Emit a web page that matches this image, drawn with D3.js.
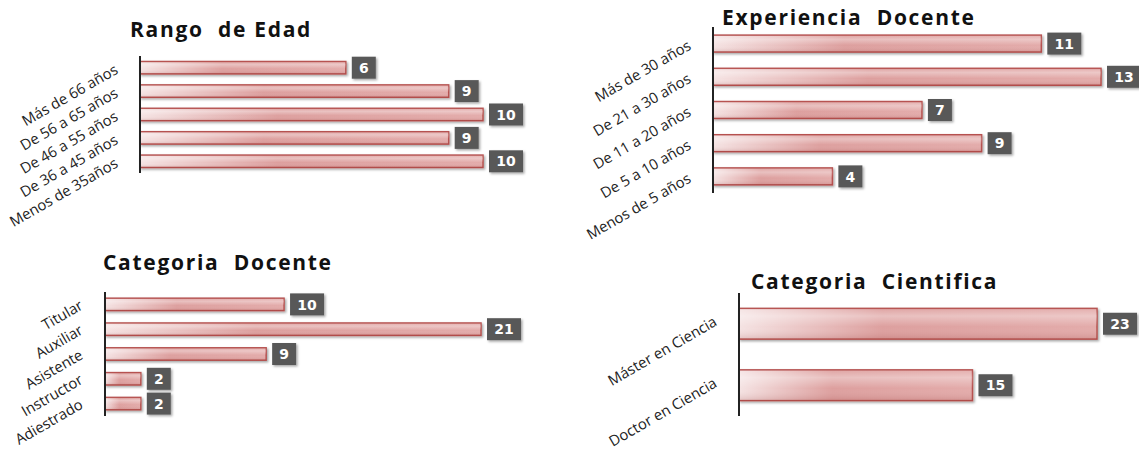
<!DOCTYPE html>
<html>
<head>
<meta charset="utf-8">
<script src="https://cdn.jsdelivr.net/npm/d3@7"></script>
<style>
  html, body { margin: 0; padding: 0; background: #ffffff; }
  svg { display: block; }
</style>
</head>
<body>
<svg id="chart" width="1139" height="451"></svg>
<script>
// ---- Data ----
const edadTitle = "Rango  de Edad";
const edadCats = ["Más de 66 años", "De 56 a 65 años", "De 46 a 55 años", "De 36 a 45 años", "Menos de 35años"];
const edadVals = [6, 9, 10, 9, 10];

const expTitle = "Experiencia  Docente";
const expCats = ["Más de 30 años", "De 21 a 30 años", "De 11 a 20 años", "De 5 a 10 años", "Menos de 5 años"];
const expVals = [11, 13, 7, 9, 4];

const catDocTitle = "Categoria  Docente";
const catDocCats = ["Titular", "Auxiliar", "Asistente", "Instructor", "Adiestrado"];
const catDocVals = [10, 21, 9, 2, 2];

const catCiTitle = "Categoria  Cientifica";
const catCiCats = ["Máster en Ciencia", "Doctor en Ciencia"];
const catCiVals = [23, 15];

// ---- Layout (positions / styles) ----
const panels = [
  { title: edadTitle, cats: edadCats, vals: edadVals, xr: [140, 483], yr: [56, 173], pad: 0.47, tx: 130, ty: 37, ldy: 5 },
  { title: expTitle, cats: expCats, vals: expVals, xr: [713, 1101], yr: [27, 193], pad: 0.49, tx: 722, ty: 25, ldy: 5 },
  { title: catDocTitle, cats: catDocCats, vals: catDocVals, xr: [105, 481], yr: [292, 416], pad: 0.5, tx: 103, ty: 270, ldy: 4 },
  { title: catCiTitle, cats: catCiCats, vals: catCiVals, xr: [739, 1097], yr: [293, 416], pad: 0.5, tx: 751, ty: 289, ldy: 1 }
];

const svg = d3.select("#chart");
const defs = svg.append("defs");

const hg = defs.append("linearGradient").attr("id", "barH").attr("x1", "0").attr("x2", "1").attr("y1", "0").attr("y2", "0");
hg.append("stop").attr("offset", "0%").attr("stop-color", "#f5e3e3");
hg.append("stop").attr("offset", "40%").attr("stop-color", "#dd9f9e");
hg.append("stop").attr("offset", "100%").attr("stop-color", "#e3abaa");

const vg = defs.append("linearGradient").attr("id", "barV").attr("x1", "0").attr("x2", "0").attr("y1", "0").attr("y2", "1");
vg.append("stop").attr("offset", "0%").attr("stop-color", "#ffffff").attr("stop-opacity", 0.05);
vg.append("stop").attr("offset", "25%").attr("stop-color", "#ffffff").attr("stop-opacity", 0.35);
vg.append("stop").attr("offset", "60%").attr("stop-color", "#ffffff").attr("stop-opacity", 0.0);
vg.append("stop").attr("offset", "100%").attr("stop-color", "#8a2a28").attr("stop-opacity", 0.18);

const sh = defs.append("filter").attr("id", "shadow").attr("x", "-10%").attr("y", "-30%").attr("width", "130%").attr("height", "180%");
sh.append("feDropShadow").attr("dx", 1.5).attr("dy", 1.5).attr("stdDeviation", 1.2).attr("flood-color", "#000").attr("flood-opacity", 0.35);

const labAngle = 30;
const labSize = 14.8;

panels.forEach(p => {
  const g = svg.append("g");
  const x = d3.scaleLinear().domain([0, d3.max(p.vals)]).range(p.xr);
  const y = d3.scaleBand().domain(p.cats).range(p.yr).paddingInner(p.pad).paddingOuter(p.pad / 2);

  // title
  g.append("text")
    .attr("x", p.tx).attr("y", p.ty)
    .attr("font-family", "'Open Sans', sans-serif")
    .attr("font-weight", "bold")
    .attr("font-size", 21)
    .attr("letter-spacing", 1.7)
    .attr("fill", "#111")
    .attr("xml:space", "preserve")
    .style("white-space", "pre")
    .text(p.title);

  // bars
  const bars = g.selectAll("g.bar").data(p.cats).enter().append("g").attr("class", "bar");
  bars.append("rect")
    .attr("x", x(0)).attr("y", d => y(d))
    .attr("width", (d, i) => x(p.vals[i]) - x(0))
    .attr("height", y.bandwidth())
    .attr("fill", "url(#barH)")
    .attr("stroke", "#b5504e").attr("stroke-width", 1.5)
    .attr("filter", "url(#shadow)");
  bars.append("rect")
    .attr("x", x(0)).attr("y", d => y(d))
    .attr("width", (d, i) => x(p.vals[i]) - x(0))
    .attr("height", y.bandwidth())
    .attr("fill", "url(#barV)");

  // value labels
  const lab = g.selectAll("g.lab").data(p.cats).enter().append("g").attr("class", "lab")
    .attr("transform", (d, i) => `translate(${x(p.vals[i]) + 6},${y(d) + y.bandwidth() / 2})`);
  lab.append("rect")
    .attr("x", 0).attr("y", -11)
    .attr("width", (d, i) => String(p.vals[i]).length > 1 ? 34 : 24)
    .attr("height", 22)
    .attr("fill", "#595959")
    .attr("filter", "url(#shadow)");
  lab.append("text")
    .attr("x", (d, i) => (String(p.vals[i]).length > 1 ? 34 : 24) / 2)
    .attr("y", 0).attr("dy", "0.37em")
    .attr("text-anchor", "middle")
    .attr("font-family", "'DejaVu Sans', sans-serif")
    .attr("font-weight", "bold")
    .attr("font-size", 14)
    .attr("fill", "#ffffff")
    .text((d, i) => p.vals[i]);

  // axis line
  g.append("line")
    .attr("x1", x(0)).attr("x2", x(0))
    .attr("y1", p.yr[0]).attr("y2", p.yr[1])
    .attr("stroke", "#222").attr("stroke-width", 2);

  // category labels (rotated)
  g.selectAll("text.cat").data(p.cats).enter().append("text")
    .attr("class", "cat")
    .attr("transform", d => `translate(${x(0) - 21},${y(d) + y.bandwidth() / 2 + p.ldy}) rotate(${-labAngle})`)
    .attr("text-anchor", "end")
    .attr("font-family", "'Open Sans', sans-serif")
    .attr("font-size", labSize)
    .attr("fill", "#222")
    .text(d => d);
});
</script>
</body>
</html>
